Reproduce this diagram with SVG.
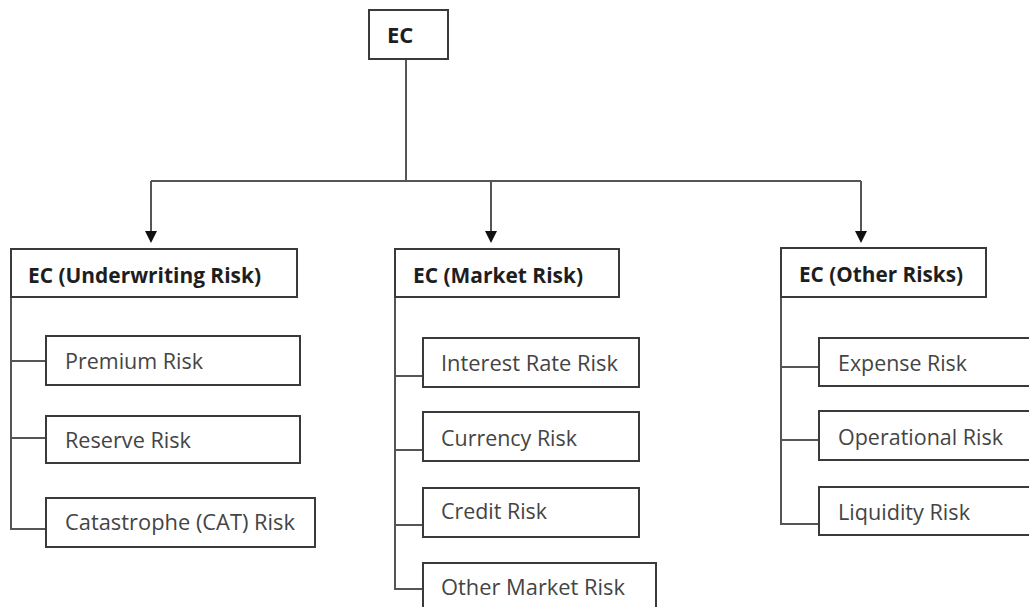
<svg xmlns="http://www.w3.org/2000/svg" width="1029" height="607" viewBox="0 0 1029 607">
<style>
.box{fill:#fff;stroke:#3a3a3a;stroke-width:2}
.hd{font-family:"Open Sans","Liberation Sans",sans-serif;font-weight:bold;font-size:22px;fill:#1e1e1e}
.tx{font-family:"Open Sans","Liberation Sans",sans-serif;font-size:21px;fill:#444}
.ln{fill:none;stroke:#555;stroke-width:2}
</style>
<rect width="1029" height="607" fill="#fff"/>
<g id="connectors">
<path class="ln" d="M406,59 V181"/>
<path class="ln" d="M151,181 H861"/>
<path class="ln" d="M151,181 V231"/>
<path d="M145,231 H157 L151,243 Z" fill="#111"/>
<path class="ln" d="M491,181 V231"/>
<path d="M485,231 H497 L491,243 Z" fill="#111"/>
<path class="ln" d="M861,181 V231"/>
<path d="M855,231 H867 L861,243 Z" fill="#111"/>
<path class="ln" d="M11,297 V529 H46"/>
<path class="ln" d="M11,361 H46 M11,438 H46"/>
<path class="ln" d="M395,297 V589 H423"/>
<path class="ln" d="M395,376 H423 M395,450 H423 M395,525 H423"/>
<path class="ln" d="M781,297 V524 H819"/>
<path class="ln" d="M781,367 H819 M781,440 H819"/>
</g>
<g id="ec"><rect class="box" x="369" y="10" width="79" height="49"/><text class="hd" x="387" y="43">EC</text></g>
<g id="ec-underwriting"><rect class="box" x="11" y="249" width="286" height="48"/><text class="hd" x="28" y="283" textLength="233" lengthAdjust="spacingAndGlyphs">EC (Underwriting Risk)</text></g>
<g id="ec-market"><rect class="box" x="395" y="249" width="224" height="48"/><text class="hd" x="413" y="283" textLength="170" lengthAdjust="spacingAndGlyphs">EC (Market Risk)</text></g>
<g id="ec-other"><rect class="box" x="781" y="248" width="205" height="49"/><text class="hd" x="799" y="282" textLength="164" lengthAdjust="spacingAndGlyphs">EC (Other Risks)</text></g>
<g id="premium"><rect class="box" x="46" y="336" width="254" height="49"/><text class="tx" x="65" y="369" textLength="138" lengthAdjust="spacingAndGlyphs">Premium Risk</text></g>
<g id="reserve"><rect class="box" x="46" y="416" width="254" height="47"/><text class="tx" x="65" y="448" textLength="126" lengthAdjust="spacingAndGlyphs">Reserve Risk</text></g>
<g id="cat"><rect class="box" x="46" y="498" width="269" height="49"/><text class="tx" x="65" y="530" textLength="230" lengthAdjust="spacingAndGlyphs">Catastrophe (CAT) Risk</text></g>
<g id="interest"><rect class="box" x="423" y="338" width="216" height="49"/><text class="tx" x="441" y="371" textLength="177" lengthAdjust="spacingAndGlyphs">Interest Rate Risk</text></g>
<g id="currency"><rect class="box" x="423" y="412" width="216" height="49"/><text class="tx" x="441" y="446" textLength="136" lengthAdjust="spacingAndGlyphs">Currency Risk</text></g>
<g id="credit"><rect class="box" x="423" y="488" width="216" height="49"/><text class="tx" x="441" y="519" textLength="106" lengthAdjust="spacingAndGlyphs">Credit Risk</text></g>
<g id="other-market"><rect class="box" x="423" y="563" width="233" height="60"/><text class="tx" x="441" y="595" textLength="184" lengthAdjust="spacingAndGlyphs">Other Market Risk</text></g>
<g id="expense"><rect class="box" x="819" y="338" width="220" height="48"/><text class="tx" x="838" y="371" textLength="129" lengthAdjust="spacingAndGlyphs">Expense Risk</text></g>
<g id="operational"><rect class="box" x="819" y="411" width="220" height="49"/><text class="tx" x="838" y="445" textLength="165" lengthAdjust="spacingAndGlyphs">Operational Risk</text></g>
<g id="liquidity"><rect class="box" x="819" y="487" width="220" height="48"/><text class="tx" x="838" y="520" textLength="132" lengthAdjust="spacingAndGlyphs">Liquidity Risk</text></g>
</svg>
